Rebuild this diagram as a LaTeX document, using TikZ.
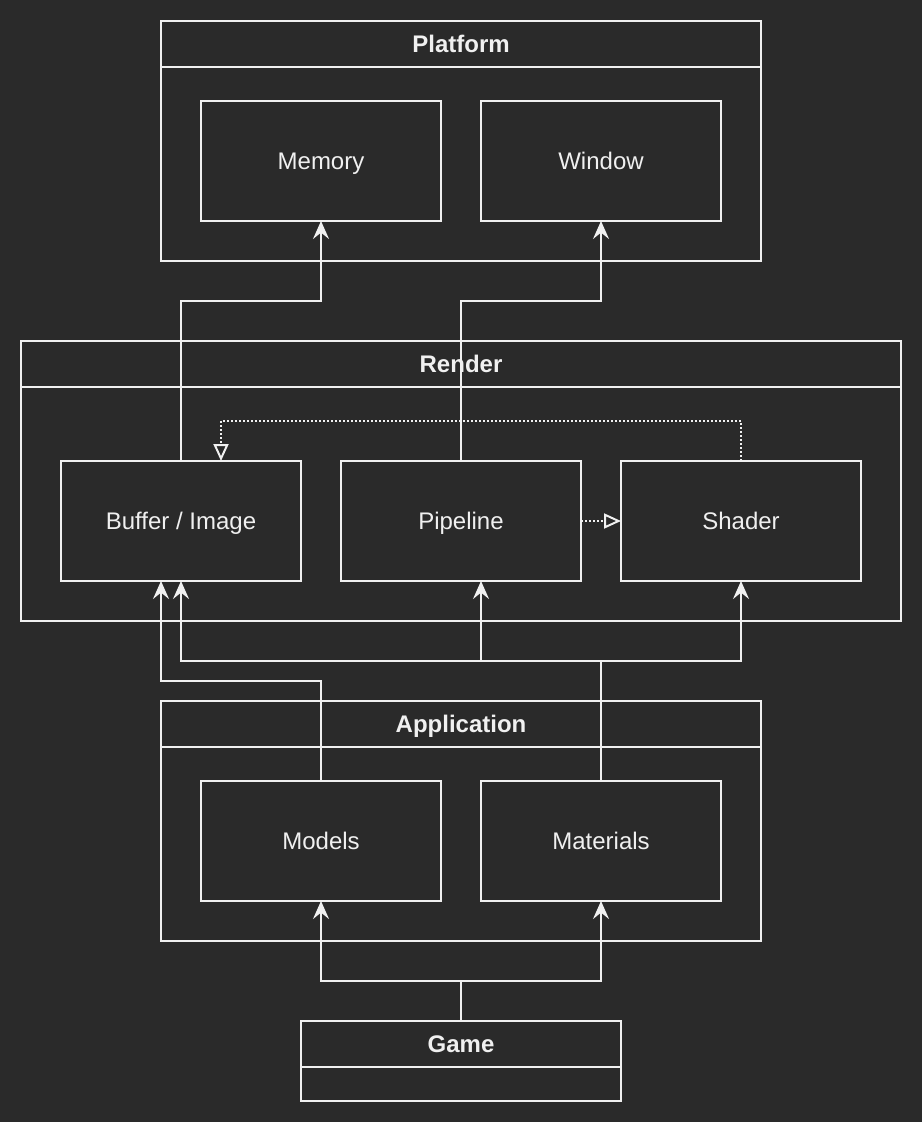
\documentclass[tikz,border=0pt,12pt]{standalone}
\usepackage{fontspec}
\setmainfont{Liberation Sans}
\usetikzlibrary{positioning}
\usetikzlibrary{arrows.meta}
\definecolor{canvas}{HTML}{2A2A2A}
\definecolor{ink}{HTML}{F0F0F0}
\tikzset{
  box/.style = {
    draw = ink, text = ink, line width = 1pt, outer sep = 0pt, inner sep = 0pt,
    text height = 0.72em, text depth = 0pt,
    minimum width = 120pt, minimum height = 60pt  }
}

\begin{document}
\begin{tikzpicture}[x=0.5pt,y=-0.5pt,
title_style/.style={box, font=\bfseries, minimum height=23pt},
flow_style/.style={draw=ink, line width=1pt, -{Stealth[length=9pt,width=8pt,inset=3.2pt]}},
dep_style/.style={draw=ink, line width=1pt, dash pattern=on 1pt off 1pt,
  -{Triangle[open,length=8.5pt,width=7.5pt]}}]

\fill[canvas] (0,0) rectangle (922,1122);

% containers
\node[title_style, minimum width=300pt] (platform) at (461,44) {Platform};
\node[box, minimum width=300pt, minimum height=97pt, below=0pt of platform] (platform_body) {};

\node[title_style, minimum width=440pt] (render) at (461,364) {Render};
\node[box, minimum width=440pt, minimum height=117pt, below=0pt of render] (render_body) {};

\node[title_style, minimum width=300pt] (application) at (461,724) {Application};
\node[box, minimum width=300pt, minimum height=97pt, below=0pt of application] (application_body) {};

\node[title_style, minimum width=160pt] (game) at (461,1044) {Game};
\node[box, minimum width=160pt, minimum height=17pt, below=0pt of game] (game_body) {};

% modules
\node[box] (memory) at (321,161) {Memory};
\node[box] (window) at (601,161) {Window};

\node[box] (buffer) at (181,521) {Buffer / Image};
\node[box] (pipeline) at (461,521) {Pipeline};
\node[box] (shader) at (741,521) {Shader};

\node[box] (models) at (321,841) {Models};
\node[box] (materials) at (601,841) {Materials};

% uses
\draw[flow_style] (buffer.north) -- ++(0,-160) -| (memory.south);
\draw[flow_style] (pipeline.north) -- ++(0,-160) -| (window.south);

\coordinate (buffer_in) at ([xshift=20pt]buffer.north);
\draw[dep_style] (shader.north) -- ++(0,-40) -| (buffer_in);
\draw[dep_style] (pipeline.east) -- (shader.west);

\coordinate (buffer_left) at ([xshift=-10pt]buffer.south);
\draw[flow_style] (models.north) -- ++(0,-100) -| (buffer_left);

\coordinate (pipeline_in) at ([xshift=10pt]pipeline.south);
\coordinate (mat_split) at ([yshift=60pt]materials.north);
\draw[draw=ink, line width=1pt] (materials.north) -- (mat_split);
\foreach \t in {buffer.south, pipeline_in, shader.south}{
 \draw[flow_style] (mat_split) -| (\t);
}

\coordinate (game_split) at ([yshift=20pt]game.north);
\draw[draw=ink, line width=1pt] (game.north) -- (game_split);
\foreach \t in {models, materials}{
 \draw[flow_style] (game_split) -| (\t.south);
}
\end{tikzpicture}
\end{document}
